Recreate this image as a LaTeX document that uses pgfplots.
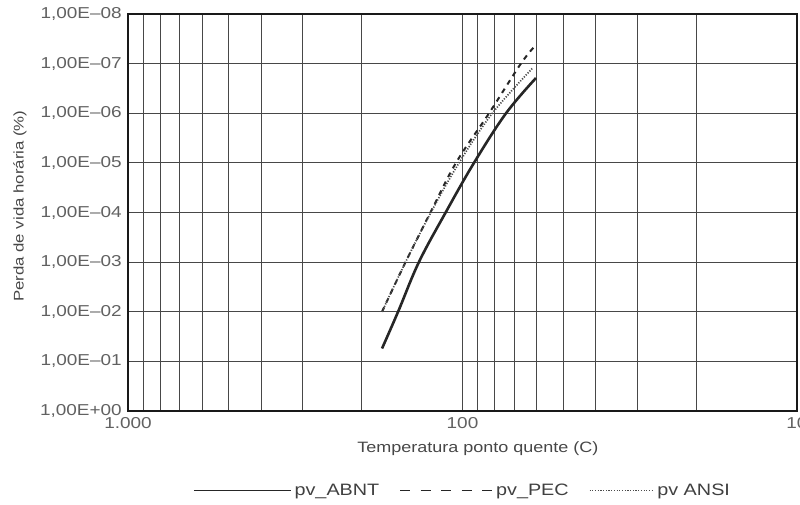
\documentclass[border=0pt]{standalone}
\usepackage{fontspec}
\setmainfont{Liberation Sans}[FakeStretch=1.2]
\usepackage{pgfplots}
\pgfplotsset{compat=1.18}
\usepackage{pgfplotstable}

\pgfplotstableread{
x y
174.0 5.5e-2
155.8 1e-2
135.0 1e-3
112.3 1e-4
92.4 1e-5
74.1 1e-6
60.3 1.95e-7
}\abnt

\pgfplotstableread{
x y
174.0 1e-2
148.0 1e-3
124.7 1e-4
104.6 1e-5
83.3 1e-6
66.9 1e-7
60.3 4.2e-8
}\pec

\pgfplotstableread{
x y
174.0 1e-2
148.0 1e-3
124.3 1e-4
102.4 1e-5
81.4 1e-6
61.8 1.24e-7
}\ansi

\begin{document}
\begin{tikzpicture}
\begin{axis}[
  scale only axis, width=669pt, height=397pt,
  xmode=log, ymode=log, x dir=reverse, y dir=reverse,
  xmin=10, xmax=1000, ymin=1e-8, ymax=1,
  xtick={10,100,1000}, xticklabels={10,100,1.000},
  minor xtick={20,30,40,50,60,70,80,90,200,300,400,500,600,700,800,900},
  ytick={1e-8,1e-7,1e-6,1e-5,1e-4,1e-3,1e-2,1e-1,1},
  yticklabels={{1,00E--08},{1,00E--07},{1,00E--06},{1,00E--05},{1,00E--04},{1,00E--03},{1,00E--02},{1,00E--01},{1,00E+00}},
  xmajorgrids, xminorgrids, ymajorgrids,
  major grid style={black!72, line width=1.1pt},
  minor grid style={black!72, line width=1pt},
  tick style={draw=none},
  axis line style={black!90, line width=1.7pt},
  ticklabel style={font=\fontsize{15.8}{18}\selectfont, text=black!62},
  yticklabel style={inner sep=0pt, xshift=-6pt},
  xticklabel style={inner sep=0pt, yshift=-6pt},
  xlabel={Temperatura ponto quente (C)},
  ylabel={Perda de vida horária (\%)},
  label style={text=black!72},
  xlabel style={font=\fontsize{15}{18}\selectfont, at={(axis description cs:0.523,-0.095)}, anchor=center},
  ylabel style={font=\fontsize{14}{18}\selectfont, at={(axis description cs:-0.1614,0.516)}, anchor=center},
  legend style={at={(axis description cs:0.5,-0.2)}, anchor=center, draw=none, fill=none,
    font=\fontsize{16.5}{18}\selectfont, text=black!75,
    /tikz/every even column/.append style={column sep=18pt},
    /tikz/every odd column/.append style={column sep=1pt}},
  legend columns=3,
]
\addplot[black!85, line width=2.6pt, smooth, tension=0.6,
  legend image code/.code={\draw[black!85, line width=1.6pt] (0pt,0pt) -- (97pt,0pt);}]
  table[x=x,y=y]{\abnt};
\addlegendentry{pv\_ABNT}
\addplot[black!85, line width=2pt, smooth, tension=0.6, dash pattern=on 5pt off 5pt,
  legend image code/.code={\draw[black!85, line width=1.8pt, dash pattern=on 10pt off 10.5pt] (0pt,0pt) -- (92pt,0pt);}]
  table[x=x,y=y]{\pec};
\addlegendentry{pv\_PEC}
\addplot[black!70, line width=1.7pt, smooth, tension=0.6, dash pattern=on 1.2pt off 1.5pt,
  legend image code/.code={\draw[black!70, line width=1.6pt, dash pattern=on 1.2pt off 1.5pt] (0pt,0pt) -- (64pt,0pt);}]
  table[x=x,y=y]{\ansi};
\addlegendentry{pv ANSI}
\end{axis}
\pgfresetboundingbox
\path[use as bounding box] ([xshift=-128pt,yshift=-93pt]current axis.south west) rectangle ++(800pt,504pt);
\end{tikzpicture}
\end{document}
